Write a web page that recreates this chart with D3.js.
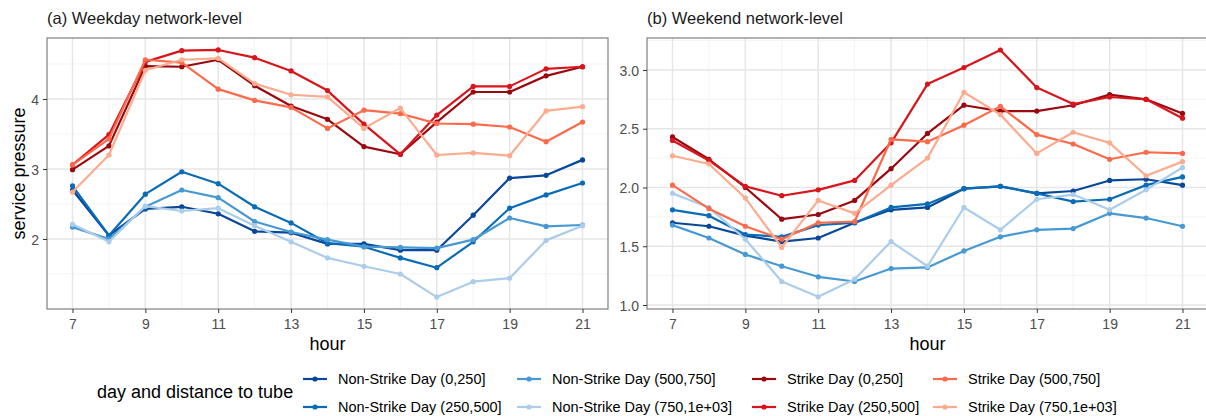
<!DOCTYPE html>
<html>
<head>
<meta charset="utf-8">
<script src="https://cdn.jsdelivr.net/npm/d3@7"></script>
<style>
  html, body { margin: 0; padding: 0; background: #fff; }
  svg { display: block; font-family: "Liberation Sans", Arial, sans-serif; }
</style>
</head>
<body>
<svg id="chart" width="1206" height="416"></svg>
<script>
// Hours of the day on the x axis
const hours = [7, 8, 9, 10, 11, 12, 13, 14, 15, 16, 17, 18, 19, 20, 21];

// Series labels (legend order, column-major)
const seriesNames = [
  "Non-Strike Day (0,250]",
  "Non-Strike Day (250,500]",
  "Non-Strike Day (500,750]",
  "Non-Strike Day (750,1e+03]",
  "Strike Day (0,250]",
  "Strike Day (250,500]",
  "Strike Day (500,750]",
  "Strike Day (750,1e+03]"
];
const seriesColors = [
  "#08479a", "#0b6cb6", "#4799d3", "#abcdea",
  "#990a10", "#d9151c", "#fb6a4a", "#fcab8f"
];

// Weekday service pressure by hour
const weekdayNS0   = [2.70, 2.05, 2.43, 2.46, 2.36, 2.11, 2.09, 1.93, 1.93, 1.84, 1.84, 2.34, 2.87, 2.91, 3.13];
const weekdayNS250 = [2.76, 2.05, 2.64, 2.96, 2.79, 2.46, 2.23, 1.94, 1.89, 1.73, 1.59, 1.96, 2.44, 2.63, 2.80];
const weekdayNS500 = [2.17, 2.00, 2.46, 2.70, 2.59, 2.25, 2.10, 1.99, 1.89, 1.88, 1.87, 1.99, 2.30, 2.18, 2.20];
const weekdayNS750 = [2.21, 1.96, 2.47, 2.40, 2.44, 2.19, 1.96, 1.73, 1.61, 1.50, 1.17, 1.39, 1.44, 1.98, 2.19];
const weekdayS0    = [2.99, 3.33, 4.47, 4.46, 4.56, 4.19, 3.90, 3.71, 3.32, 3.21, 3.67, 4.10, 4.10, 4.33, 4.46];
const weekdayS250  = [3.06, 3.49, 4.53, 4.69, 4.70, 4.59, 4.40, 4.12, 3.64, 3.21, 3.77, 4.18, 4.18, 4.43, 4.46];
const weekdayS500  = [3.06, 3.43, 4.56, 4.52, 4.14, 3.98, 3.88, 3.58, 3.84, 3.79, 3.65, 3.64, 3.60, 3.39, 3.67];
const weekdayS750  = [2.67, 3.20, 4.41, 4.56, 4.58, 4.22, 4.06, 4.03, 3.58, 3.87, 3.20, 3.23, 3.19, 3.83, 3.89];

// Weekend service pressure by hour
const weekendNS0   = [1.70, 1.67, 1.59, 1.54, 1.57, 1.70, 1.81, 1.83, 1.99, 2.01, 1.95, 1.97, 2.06, 2.07, 2.02];
const weekendNS250 = [1.81, 1.76, 1.60, 1.58, 1.68, 1.70, 1.83, 1.86, 1.99, 2.01, 1.95, 1.88, 1.90, 2.02, 2.09];
const weekendNS500 = [1.68, 1.57, 1.43, 1.33, 1.24, 1.20, 1.31, 1.32, 1.46, 1.58, 1.64, 1.65, 1.78, 1.74, 1.67];
const weekendNS750 = [1.95, 1.83, 1.56, 1.20, 1.07, 1.22, 1.54, 1.33, 1.83, 1.64, 1.90, 1.94, 1.81, 1.98, 2.17];
const weekendS0    = [2.43, 2.24, 2.00, 1.73, 1.77, 1.89, 2.16, 2.46, 2.70, 2.65, 2.65, 2.70, 2.79, 2.75, 2.63];
const weekendS250  = [2.40, 2.23, 2.01, 1.93, 1.98, 2.06, 2.38, 2.88, 3.02, 3.17, 2.85, 2.71, 2.77, 2.75, 2.59];
const weekendS500  = [2.02, 1.82, 1.67, 1.56, 1.70, 1.71, 2.41, 2.39, 2.53, 2.69, 2.45, 2.37, 2.24, 2.30, 2.29];
const weekendS750  = [2.27, 2.20, 1.91, 1.49, 1.89, 1.78, 2.02, 2.25, 2.81, 2.62, 2.29, 2.47, 2.38, 2.10, 2.22];

// Axis ticks
const xTicks = [7, 9, 11, 13, 15, 17, 19, 21];
const xMinor = [8, 10, 12, 14, 16, 18, 20];
const weekdayYTicks = [2, 3, 4];
const weekdayYMinor = [1.5, 2.5, 3.5, 4.5];
const weekendYTicks = [1.0, 1.5, 2.0, 2.5, 3.0];
const weekendYMinor = [1.25, 1.75, 2.25, 2.75, 3.25];

const panels = [
  {
    title: "(a) Weekday network-level",
    series: [weekdayNS0, weekdayNS250, weekdayNS500, weekdayNS750, weekdayS0, weekdayS250, weekdayS500, weekdayS750],
    yDomain: [1.0, 4.871], yTicks: weekdayYTicks, yMinor: weekdayYMinor,
    yFormat: d3.format("d"), left: 47, yTitle: "service pressure"
  },
  {
    title: "(b) Weekend network-level",
    series: [weekendNS0, weekendNS250, weekendNS500, weekendNS750, weekendS0, weekendS250, weekendS500, weekendS750],
    yDomain: [0.966, 3.272], yTicks: weekendYTicks, yMinor: weekendYMinor,
    yFormat: d3.format(".1f"), left: 647, yTitle: null
  }
];

const svg = d3.select("#chart");
const plotTop = 38, plotBottom = 309, panelW = 561;
const textCol = "#4d4d4d";

panels.forEach((p, pi) => {
  const x = d3.scaleLinear().domain([6.3, 21.7]).range([p.left, p.left + panelW]);
  const y = d3.scaleLinear().domain(p.yDomain).range([plotBottom, plotTop]);
  const g = svg.append("g");
  const clipId = "clip" + pi;
  svg.append("clipPath").attr("id", clipId)
    .append("rect").attr("x", p.left).attr("y", plotTop).attr("width", panelW).attr("height", plotBottom - plotTop);

  // grid
  const grid = g.append("g");
  grid.selectAll(".ymin").data(p.yMinor).join("line")
    .attr("x1", p.left).attr("x2", p.left + panelW)
    .attr("y1", d => y(d)).attr("y2", d => y(d))
    .attr("stroke", "#f0f0f0").attr("stroke-width", 0.8);
  grid.selectAll(".xmin").data(xMinor).join("line")
    .attr("y1", plotTop).attr("y2", plotBottom)
    .attr("x1", d => x(d)).attr("x2", d => x(d))
    .attr("stroke", "#f0f0f0").attr("stroke-width", 0.8);
  grid.selectAll(".ymaj").data(p.yTicks).join("line")
    .attr("x1", p.left).attr("x2", p.left + panelW)
    .attr("y1", d => y(d)).attr("y2", d => y(d))
    .attr("stroke", "#e6e6e6").attr("stroke-width", 1.5);
  grid.selectAll(".xmaj").data(xTicks).join("line")
    .attr("y1", plotTop).attr("y2", plotBottom)
    .attr("x1", d => x(d)).attr("x2", d => x(d))
    .attr("stroke", "#e6e6e6").attr("stroke-width", 1.5);

  // series lines and points
  const marks = g.append("g").attr("clip-path", `url(#${clipId})`);
  const line = d3.line().x((d, i) => x(hours[i])).y(d => y(d));
  p.series.forEach((vals, si) => {
    const col = seriesColors[si];
    marks.append("path").datum(vals)
      .attr("d", line).attr("fill", "none")
      .attr("stroke", col).attr("stroke-width", 2.2).attr("stroke-linejoin", "round");
    marks.selectAll(null).data(vals).join("circle")
      .attr("cx", (d, i) => x(hours[i])).attr("cy", d => y(d))
      .attr("r", 2.6).attr("fill", col);
  });

  // panel border
  g.append("rect").attr("x", p.left).attr("y", plotTop)
    .attr("width", panelW).attr("height", plotBottom - plotTop)
    .attr("fill", "none").attr("stroke", "#7f7f7f").attr("stroke-width", 1.2);

  // axes
  const xAxis = g.append("g").attr("transform", `translate(0,${plotBottom})`)
    .call(d3.axisBottom(x).tickValues(xTicks).tickSize(4).tickPadding(4).tickFormat(d3.format("d")));
  const yAxis = g.append("g").attr("transform", `translate(${p.left},0)`)
    .call(d3.axisLeft(y).tickValues(p.yTicks).tickSize(4).tickPadding(4).tickFormat(p.yFormat));
  [xAxis, yAxis].forEach(a => {
    a.select(".domain").remove();
    a.selectAll(".tick line").attr("stroke", "#333").attr("stroke-width", 1);
    a.selectAll(".tick text").attr("fill", textCol)
      .style("font-size", "14px").style("font-family", "'Liberation Sans', Arial, sans-serif");
  });
  xAxis.selectAll(".tick text").attr("dy", null).attr("y", 20);
  yAxis.selectAll(".tick text").attr("dy", "0.36em");

  // titles
  g.append("text").attr("x", p.left).attr("y", 24)
    .attr("fill", "#1a1a1a").style("font-size", "16.5px").text(p.title);
  g.append("text").attr("x", p.left + panelW / 2).attr("y", 350)
    .attr("text-anchor", "middle").attr("fill", "#000").style("font-size", "18px").text("hour");
  if (p.yTitle) {
    g.append("text")
      .attr("transform", `translate(25,${(plotTop + plotBottom) / 2}) rotate(-90)`)
      .attr("text-anchor", "middle").attr("fill", "#000").style("font-size", "18px").text(p.yTitle);
  }
});

// legend
const legend = svg.append("g");
legend.append("text").attr("x", 97).attr("y", 398)
  .attr("fill", "#000").style("font-size", "18px").text("day and distance to tube");
const colX = [303, 517, 752, 933];
const rowY = [379, 407];
seriesNames.forEach((name, i) => {
  const cx = colX[Math.floor(i / 2)], cy = rowY[i % 2];
  const k = legend.append("g");
  k.append("line").attr("x1", cx).attr("x2", cx + 24).attr("y1", cy).attr("y2", cy)
    .attr("stroke", seriesColors[i]).attr("stroke-width", 2.2);
  k.append("circle").attr("cx", cx + 12).attr("cy", cy).attr("r", 2.6).attr("fill", seriesColors[i]);
  k.append("text").attr("x", cx + 35).attr("y", cy + 5)
    .attr("fill", "#000").style("font-size", "14.5px").text(name);
});
</script>
</body>
</html>
